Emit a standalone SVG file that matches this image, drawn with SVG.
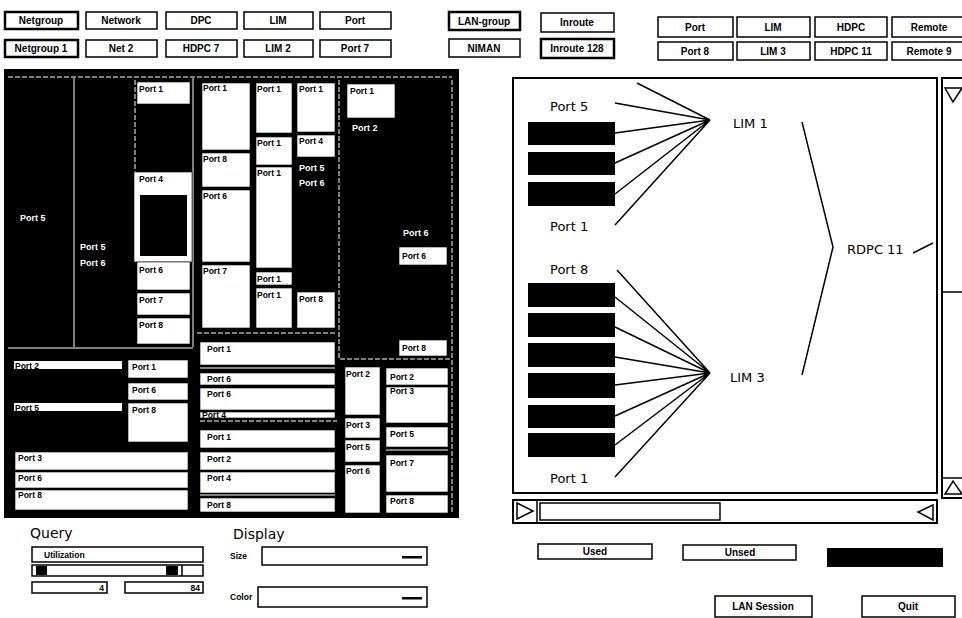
<svg xmlns="http://www.w3.org/2000/svg" width="962" height="618" viewBox="0 0 962 618">
<style>
text{font-family:"Liberation Sans",Arial,sans-serif}
.b{fill:#fff;stroke:#000;stroke-width:1.5}
.bb{fill:#fff;stroke:#000;stroke-width:2.5}
.bt{font-size:10px;font-weight:bold;text-anchor:middle}
.w{fill:#fff;stroke:#000;stroke-width:0.6}
.t{font-size:8.5px;font-weight:bold}
.wt{font-size:9px;font-weight:bold;fill:#fff}
.wl{stroke:#fff;stroke-width:1;fill:none}
.wd{stroke:#fff;stroke-width:1;stroke-dasharray:5 2;fill:none}
.lbl{font-family:"DejaVu Sans",sans-serif;font-size:13px}
.hd{font-family:"DejaVu Sans",sans-serif;font-size:14px}
.ln{stroke:#000;stroke-width:1.5;fill:none}
.frame{fill:#fff;stroke:#000;stroke-width:2}
</style>
<rect width="962" height="618" fill="#fff"/>

<g id="toolbar">
  <rect class="bb" x="5" y="12" width="73" height="17"/><text class="bt" x="41" y="24">Netgroup</text>
  <rect class="b" x="86" y="12" width="71" height="17"/><text class="bt" x="121" y="24">Network</text>
  <rect class="b" x="166" y="12" width="71" height="17"/><text class="bt" x="201" y="24">DPC</text>
  <rect class="b" x="244" y="12" width="69" height="17"/><text class="bt" x="278" y="24">LIM</text>
  <rect class="b" x="320" y="12" width="71" height="17"/><text class="bt" x="355" y="24">Port</text>
  <rect class="bb" x="5" y="40" width="73" height="17"/><text class="bt" x="41" y="52">Netgroup 1</text>
  <rect class="b" x="86" y="40" width="71" height="17"/><text class="bt" x="121" y="52">Net 2</text>
  <rect class="b" x="166" y="40" width="71" height="17"/><text class="bt" x="201" y="52">HDPC 7</text>
  <rect class="b" x="244" y="40" width="69" height="17"/><text class="bt" x="278" y="52">LIM 2</text>
  <rect class="b" x="320" y="40" width="71" height="17"/><text class="bt" x="355" y="52">Port 7</text>

  <rect class="bb" x="449" y="12" width="71" height="18"/><text class="bt" x="484" y="25">LAN-group</text>
  <rect class="b" x="541" y="13" width="73" height="19"/><text class="bt" x="577" y="26">Inroute</text>
  <rect class="b" x="449" y="39" width="71" height="18"/><text class="bt" x="484" y="52">NIMAN</text>
  <rect class="bb" x="541" y="39" width="73" height="19"/><text class="bt" x="577" y="52">Inroute 128</text>

  <rect class="b" x="658" y="17" width="75" height="20"/><text class="bt" x="695" y="31">Port</text>
  <rect class="b" x="737" y="17" width="73" height="20"/><text class="bt" x="773" y="31">LIM</text>
  <rect class="b" x="815" y="17" width="72" height="20"/><text class="bt" x="851" y="31">HDPC</text>
  <rect class="b" x="892" y="17" width="74" height="20"/><text class="bt" x="929" y="31">Remote</text>
  <rect class="b" x="658" y="42" width="75" height="18"/><text class="bt" x="695" y="55">Port 8</text>
  <rect class="b" x="737" y="42" width="73" height="18"/><text class="bt" x="773" y="55">LIM 3</text>
  <rect class="b" x="815" y="42" width="72" height="18"/><text class="bt" x="851" y="55">HDPC 11</text>
  <rect class="b" x="892" y="42" width="74" height="18"/><text class="bt" x="929" y="55">Remote 9</text>
</g>

<g id="treemap">
  <rect x="4" y="69" width="455" height="449" fill="#000"/>
  <path class="wd" d="M8 77H452"/>
  <path class="wl" d="M74 78V347M193 78V347M8 348H193"/>
  <path class="wd" d="M135 80V172M339 80V358M452 80V513M197 333H337M340 359H452"/>
  <text class="wt" x="20" y="221">Port 5</text>
  <text class="wt" x="80" y="250">Port 5</text>
  <text class="wt" x="80" y="266">Port 6</text>
  <rect class="w" x="137" y="82" width="53" height="22"/><text class="t" x="139" y="92">Port 1</text>
  <rect class="w" x="134" y="172" width="58" height="90"/><text class="t" x="139" y="182">Port 4</text>
  <rect x="140" y="195" width="47" height="61" fill="#000"/>
  <rect class="w" x="137" y="262" width="53" height="28"/><text class="t" x="139" y="273">Port 6</text>
  <rect class="w" x="137" y="293" width="53" height="22"/><text class="t" x="139" y="303">Port 7</text>
  <rect class="w" x="137" y="318" width="53" height="26"/><text class="t" x="139" y="328">Port 8</text>

  <rect class="w" x="202" y="83" width="48" height="67"/><text class="t" x="203" y="91">Port 1</text>
  <rect class="w" x="202" y="153" width="48" height="34"/><text class="t" x="203" y="162">Port 8</text>
  <rect class="w" x="202" y="190" width="48" height="72"/><text class="t" x="203" y="199">Port 6</text>
  <rect class="w" x="202" y="265" width="48" height="63"/><text class="t" x="203" y="274">Port 7</text>
  <rect class="w" x="256" y="83" width="36" height="50"/><text class="t" x="257" y="92">Port 1</text>
  <rect class="w" x="256" y="137" width="36" height="28"/><text class="t" x="257" y="146">Port 1</text>
  <rect class="w" x="256" y="167" width="36" height="101"/><text class="t" x="257" y="176">Port 1</text>
  <rect class="w" x="256" y="272" width="36" height="13"/><text class="t" x="257" y="282">Port 1</text>
  <rect class="w" x="256" y="288" width="36" height="40"/><text class="t" x="257" y="298">Port 1</text>
  <rect class="w" x="297" y="83" width="38" height="49"/><text class="t" x="299" y="92">Port 1</text>
  <rect class="w" x="297" y="135" width="38" height="22"/><text class="t" x="299" y="144">Port 4</text>
  <text class="wt" x="299" y="171">Port 5</text>
  <text class="wt" x="299" y="186">Port 6</text>
  <rect class="w" x="297" y="292" width="38" height="36"/><text class="t" x="299" y="302">Port 8</text>

  <rect class="w" x="347" y="84" width="48" height="34"/><text class="t" x="350" y="94">Port 1</text>
  <text class="wt" x="352" y="131">Port 2</text>
  <text class="wt" x="403" y="236">Port 6</text>
  <rect class="w" x="399" y="247" width="48" height="18"/><text class="t" x="402" y="259">Port 6</text>
  <rect class="w" x="399" y="340" width="48" height="16"/><text class="t" x="402" y="351">Port 8</text>

  <rect fill="#fff" x="14" y="361" width="108" height="8"/><text class="t" x="15" y="369">Port 2</text>
  <rect fill="#fff" x="14" y="403" width="108" height="8"/><text class="t" x="15" y="411">Port 5</text>
  <rect class="w" x="128" y="360" width="60" height="18"/><text class="t" x="132" y="370">Port 1</text>
  <rect class="w" x="128" y="383" width="60" height="17"/><text class="t" x="132" y="393">Port 6</text>
  <rect class="w" x="128" y="403" width="60" height="39"/><text class="t" x="132" y="413">Port 8</text>
  <rect class="w" x="15" y="452" width="173" height="18"/><text class="t" x="18" y="461">Port 3</text>
  <rect class="w" x="15" y="472" width="173" height="16"/><text class="t" x="18" y="481">Port 6</text>
  <rect class="w" x="15" y="490" width="173" height="20"/><text class="t" x="18" y="498">Port 8</text>

  <rect class="w" x="200" y="342" width="135" height="23"/><text class="t" x="207" y="352">Port 1</text>
  <path class="wl" d="M200 368H335"/>
  <rect class="w" x="200" y="373" width="135" height="12"/><text class="t" x="207" y="382">Port 6</text>
  <rect class="w" x="200" y="388" width="135" height="22"/><text class="t" x="207" y="397">Port 6</text>
  <rect class="w" x="200" y="412" width="135" height="6"/><text class="t" x="202" y="418">Port 4</text>
  <path class="wd" d="M200 421H337"/>
  <rect class="w" x="200" y="430" width="135" height="18"/><text class="t" x="207" y="440">Port 1</text>
  <rect class="w" x="200" y="452" width="135" height="18"/><text class="t" x="207" y="462">Port 2</text>
  <rect class="w" x="200" y="472" width="135" height="21"/><text class="t" x="207" y="481">Port 4</text>
  <path class="wl" d="M200 495H335"/>
  <rect class="w" x="200" y="498" width="135" height="14"/><text class="t" x="207" y="508">Port 8</text>

  <rect class="w" x="345" y="367" width="35" height="48"/><text class="t" x="346" y="377">Port 2</text>
  <rect class="w" x="345" y="418" width="35" height="20"/><text class="t" x="346" y="428">Port 3</text>
  <rect class="w" x="345" y="440" width="35" height="22"/><text class="t" x="346" y="450">Port 5</text>
  <rect class="w" x="345" y="465" width="35" height="48"/><text class="t" x="346" y="474">Port 6</text>
  <rect class="w" x="386" y="368" width="62" height="17"/><text class="t" x="390" y="380">Port 2</text>
  <rect class="w" x="386" y="387" width="62" height="36"/><text class="t" x="390" y="394">Port 3</text>
  <rect class="w" x="386" y="427" width="62" height="20"/><text class="t" x="390" y="437">Port 5</text>
  <path class="wl" d="M386 450H448"/>
  <rect class="w" x="386" y="455" width="62" height="37"/><text class="t" x="390" y="466">Port 7</text>
  <rect class="w" x="386" y="495" width="62" height="18"/><text class="t" x="390" y="504">Port 8</text>
</g>

<g id="viewport">
  <rect class="frame" x="513" y="78" width="424" height="415"/>
  <rect class="frame" x="942" y="78" width="24" height="420"/>
  <path class="ln" d="M942 292H964M942 478H964"/>
  <polygon class="ln" points="945,88 962,88 953,102"/>
  <polygon class="ln" points="945,494 962,494 953,481"/>
  <rect class="frame" x="513" y="500" width="424" height="23"/>
  <polygon class="ln" points="517,503 517,519 533,511"/>
  <path class="ln" d="M537 501V522"/>
  <rect class="b" x="540" y="503" width="180" height="17"/>
  <polygon class="ln" points="933,505 933,520 918,512"/>
</g>

<g id="connectors">
  <path class="ln" d="M637 83L710 120M615 103L710 120M615 133L710 120M615 163L710 120M615 194L710 120M615 225L710 120"/>
  <path class="ln" d="M617 270L710 373M615 297L710 373M615 327L710 373M615 357L710 373M615 385L710 373M615 416L710 373M615 445L710 373M615 477L710 373"/>
  <path class="ln" d="M802 122L833 247L802 375"/>
  <path class="ln" d="M913 253L933 243"/>
</g>

<g id="node-lim1">
  <text class="lbl" x="550" y="111">Port 5</text>
  <rect x="528" y="122" width="87" height="23"/>
  <rect x="528" y="152" width="87" height="23"/>
  <rect x="528" y="182" width="87" height="24"/>
  <text class="lbl" x="550" y="231">Port 1</text>
  <text class="lbl" x="733" y="128">LIM 1</text>
</g>
<g id="node-rdpc">
  <text class="lbl" x="847" y="254">RDPC 11</text>
</g>
<g id="node-lim3">
  <text class="lbl" x="550" y="274">Port 8</text>
  <rect x="528" y="283" width="87" height="24"/>
  <rect x="528" y="313" width="87" height="24"/>
  <rect x="528" y="343" width="87" height="24"/>
  <rect x="528" y="373" width="87" height="25"/>
  <rect x="528" y="405" width="87" height="23"/>
  <rect x="528" y="433" width="87" height="24"/>
  <text class="lbl" x="550" y="483">Port 1</text>
  <text class="lbl" x="730" y="382">LIM 3</text>
</g>

<g id="query">
  <text class="hd" x="30" y="538">Query</text>
  <rect class="b" x="32" y="547" width="171" height="15"/>
  <text class="t" x="44" y="558" font-size="9.5">Utilization</text>
  <rect class="b" x="32" y="565" width="171" height="11"/>
  <rect x="36" y="566" width="11" height="9"/>
  <rect x="166" y="566" width="12" height="9"/>
  <path class="ln" d="M182 565V576"/>
  <rect class="b" x="32" y="582" width="75" height="11"/>
  <text class="t" x="104" y="591" text-anchor="end">4</text>
  <rect class="b" x="125" y="582" width="78" height="11"/>
  <text class="t" x="200" y="591" text-anchor="end">84</text>
</g>
<g id="display">
  <text class="hd" x="233" y="539">Display</text>
  <text class="t" x="230" y="559" font-size="9.5">Size</text>
  <rect class="b" x="262" y="547" width="165" height="18"/>
  <rect x="402" y="556" width="20" height="2.5"/>
  <text class="t" x="230" y="600" font-size="9.5">Color</text>
  <rect class="b" x="258" y="587" width="169" height="20"/>
  <rect x="402" y="597" width="20" height="2.5"/>
</g>
<g id="legend">
  <rect class="b" x="538" y="544" width="114" height="15"/><text class="bt" x="595" y="555">Used</text>
  <rect class="b" x="683" y="545" width="113" height="15"/><text class="bt" x="740" y="556">Unsed</text>
  <rect x="827" y="548" width="116" height="19"/>
</g>
<g id="actions">
  <rect class="b" x="715" y="596" width="97" height="21"/><text class="bt" x="763" y="610">LAN Session</text>
  <rect class="b" x="862" y="596" width="93" height="21"/><text class="bt" x="908" y="610">Quit</text>
</g>
</svg>
